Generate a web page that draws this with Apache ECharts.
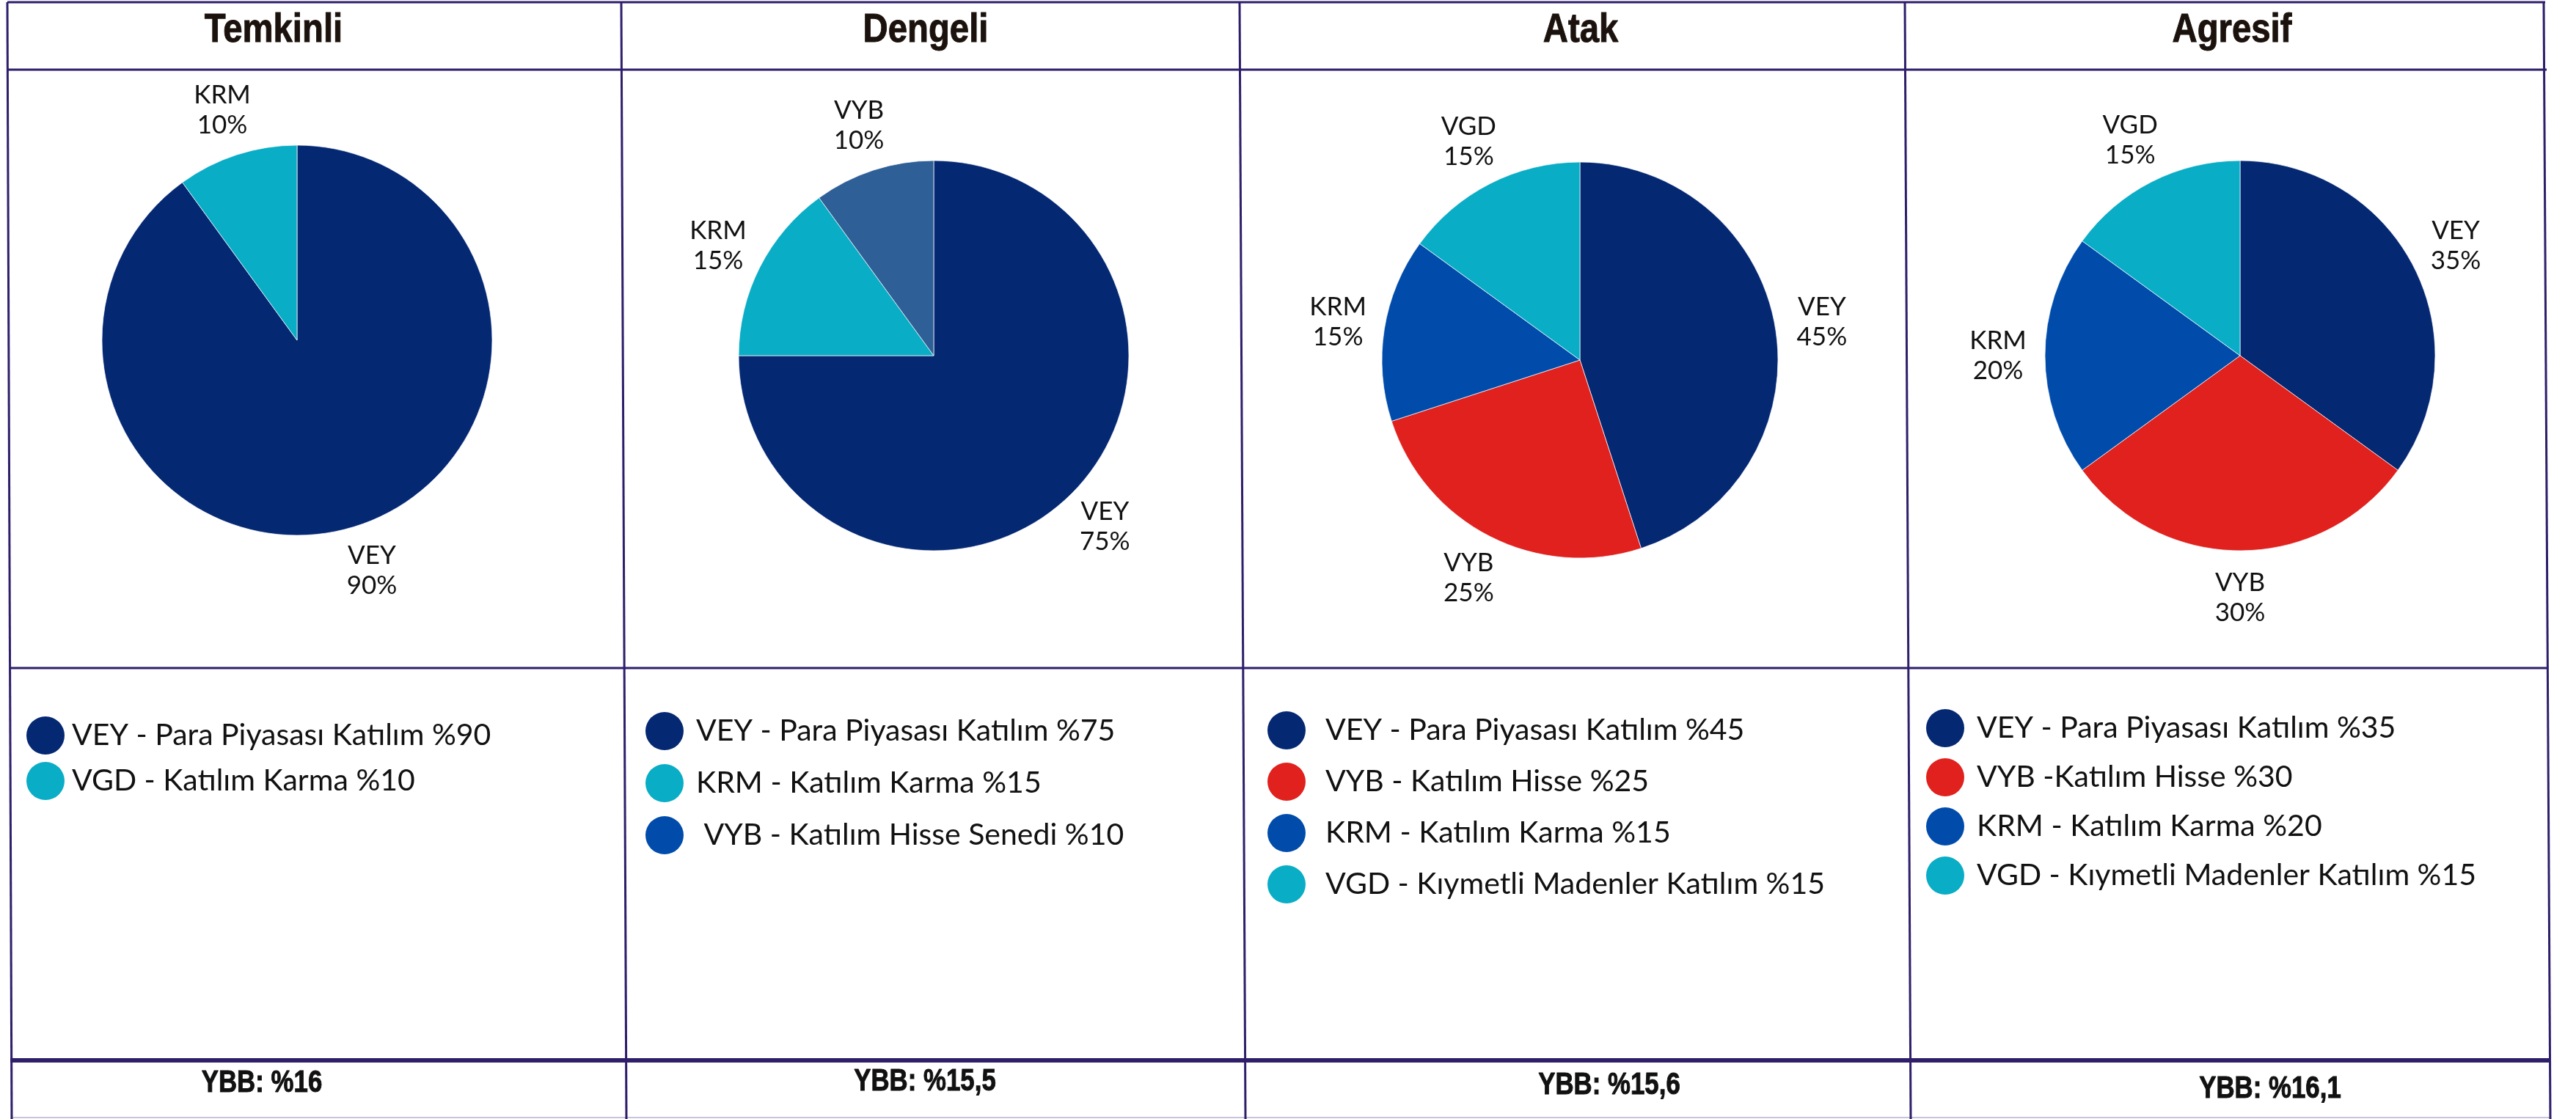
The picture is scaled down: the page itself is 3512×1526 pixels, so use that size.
<!DOCTYPE html>
<html>
<head>
<meta charset="utf-8">
<title>Fon dağılımları</title>
<script src="https://cdn.jsdelivr.net/npm/echarts@6/dist/echarts.min.js"></script>
<style>
  html, body { margin: 0; padding: 0; background: #fff; }
  #chart { width: 3512px; height: 1526px; }
</style>
</head>
<body>
<div id="chart"></div>
<script>
// profil başlıkları ve YBB değerleri
const profiles = ['Temkinli', 'Dengeli', 'Atak', 'Agresif'];
const ybbTexts = ['YBB: %16', 'YBB: %15,5', 'YBB: %15,6', 'YBB: %16,1'];

// dağılımlar (saat 12'den başlayıp saat yönünde)
const temkinliNames = ['VEY', 'KRM'];
const temkinliValues = [90, 10];
const dengeliNames = ['VEY', 'KRM', 'VYB'];
const dengeliValues = [75, 15, 10];
const atakNames = ['VEY', 'VYB', 'KRM', 'VGD'];
const atakValues = [45, 25, 15, 15];
const agresifNames = ['VEY', 'VYB', 'KRM', 'VGD'];
const agresifValues = [35, 30, 20, 15];

// lejant metinleri
const temkinliLegend = ['VEY - Para Piyasası Katılım %90', 'VGD - Katılım Karma %10'];
const dengeliLegend = ['VEY - Para Piyasası Katılım %75', 'KRM - Katılım Karma %15', ' VYB - Katılım Hisse Senedi %10'];
const atakLegend = ['VEY - Para Piyasası Katılım %45', 'VYB - Katılım Hisse %25', 'KRM - Katılım Karma %15', 'VGD - Kıymetli Madenler Katılım %15'];
const agresifLegend = ['VEY - Para Piyasası Katılım %35', 'VYB -Katılım Hisse %30', 'KRM - Katılım Karma %20', 'VGD - Kıymetli Madenler Katılım %15'];

// renkler
const NAVY = '#052873', CYAN = '#0AADC6', STEEL = '#2E5F96', BLUE = '#014CAB', RED = '#E0211E';
const sliceColors = [
    [NAVY, CYAN],
    [NAVY, CYAN, STEEL],
    [NAVY, RED, BLUE, CYAN],
    [NAVY, RED, BLUE, CYAN]
];
const legendColors = [
    [NAVY, CYAN],
    [NAVY, CYAN, BLUE],
    [NAVY, RED, BLUE, CYAN],
    [NAVY, RED, BLUE, CYAN]
];

const allNames = [temkinliNames, dengeliNames, atakNames, agresifNames];
const allValues = [temkinliValues, dengeliValues, atakValues, agresifValues];
const allLegend = [temkinliLegend, dengeliLegend, atakLegend, agresifLegend];

// yerleşim
const pieLayout = [
    { cx: 405, cy: 464, r: 266 },
    { cx: 1273, cy: 485, r: 266 },
    { cx: 2154, cy: 491, r: 270 },
    { cx: 3054, cy: 485, r: 266 }
];
const legendLayout = [
    { left: 36, top: 977, gap: 10, pad: 5 },
    { left: 880, top: 971, gap: 19, pad: 12 },
    { left: 1728, top: 970, gap: 18, pad: 22 },
    { left: 2626, top: 967, gap: 15, pad: 12 }
];
const titlePos = [[373, 42], [1262, 42], [2155, 42], [3043, 42]];
const ybbPos = [[357, 1477], [1261, 1475], [2194, 1480], [3095, 1485]];

const LINE = '#2f1f6b';
const TEXT_FONT = 'Lato, "Open Sans", sans-serif';
const BOLD_FONT = '"Liberation Sans", Arial, sans-serif';

const chart = echarts.init(document.getElementById('chart'));

const series = [];
allNames.forEach((names, i) => {
    const p = pieLayout[i];
    const data = names.map((n, j) => ({
        name: n,
        value: allValues[i][j],
        itemStyle: { color: sliceColors[i][j] }
    }));
    // dilimler
    series.push({
        type: 'pie',
        center: [p.cx, p.cy],
        radius: [0, p.r],
        startAngle: 90,
        clockwise: true,
        silent: true,
        label: { show: false },
        labelLine: { show: false },
        itemStyle: { borderColor: 'rgba(255,255,255,0.7)', borderWidth: 1 },
        data: data
    });
    // dış etiketler: görünmez halka üzerinde ortalanmış
    series.push({
        type: 'pie',
        center: [p.cx, p.cy],
        radius: [p.r, p.r + 122],
        startAngle: 90,
        clockwise: true,
        silent: true,
        itemStyle: { color: 'rgba(0,0,0,0)', borderWidth: 0 },
        label: {
            show: true,
            position: 'inside',
            formatter: '{b}\n{c}%',
            fontFamily: TEXT_FONT,
            fontSize: 35,
            lineHeight: 41,
            color: '#111'
        },
        labelLine: { show: false },
        data: names.map((n, j) => ({ name: n, value: allValues[i][j] }))
    });
});

const legends = allNames.map((names, i) => {
    const L = legendLayout[i];
    return {
        orient: 'vertical',
        left: L.left,
        top: L.top,
        padding: 0,
        itemGap: L.gap,
        itemWidth: 52,
        itemHeight: 52,
        icon: 'circle',
        selectedMode: false,
        data: names.map((n, j) => ({ name: n, itemStyle: { color: legendColors[i][j], borderWidth: 0 } })),
        formatter: (name) => allLegend[i][names.indexOf(name)],
        textStyle: {
            fontFamily: TEXT_FONT,
            fontSize: 41,
            color: '#111',
            padding: [0, 0, 0, L.pad]
        }
    };
});

// tablo çizgileri
function line(x1, y1, x2, y2, w, c) {
    return { type: 'line', silent: true, shape: { x1, y1, x2, y2 }, style: { stroke: c || LINE, lineWidth: w } };
}
const graphics = [
    line(10, 3, 3470, 3, 3),
    line(10, 95, 3472, 95, 3),
    line(13, 911, 3474, 911, 3),
    line(14, 1446, 3476, 1446, 6),
    line(16, 1524, 3477, 1524, 2, '#c9c3dd'),
    line(10, 3, 16, 1526, 3),
    line(847, 3, 854, 1526, 3),
    line(1690, 3, 1698, 1526, 3),
    line(2597, 3, 2605, 1526, 3),
    line(3468, 3, 3477, 1526, 3)
];
profiles.forEach((t, i) => {
    graphics.push({
        type: 'text', silent: true,
        x: titlePos[i][0], y: titlePos[i][1], scaleX: 0.86,
        style: { text: t, font: 'bold 55px ' + BOLD_FONT, fill: '#1b120d', textAlign: 'center', textVerticalAlign: 'middle',
                 stroke: '#1b120d', lineWidth: 1 }
    });
});
ybbTexts.forEach((t, i) => {
    graphics.push({
        type: 'text', silent: true,
        x: ybbPos[i][0], y: ybbPos[i][1], scaleX: 0.81,
        style: { text: t, font: 'bold 43px ' + BOLD_FONT, fill: '#111', textAlign: 'center', textVerticalAlign: 'middle',
                 stroke: '#111', lineWidth: 1 }
    });
});

chart.setOption({
    backgroundColor: '#fff',
    animation: false,
    legend: legends,
    series: series,
    graphic: graphics
});
</script>
</body>
</html>
